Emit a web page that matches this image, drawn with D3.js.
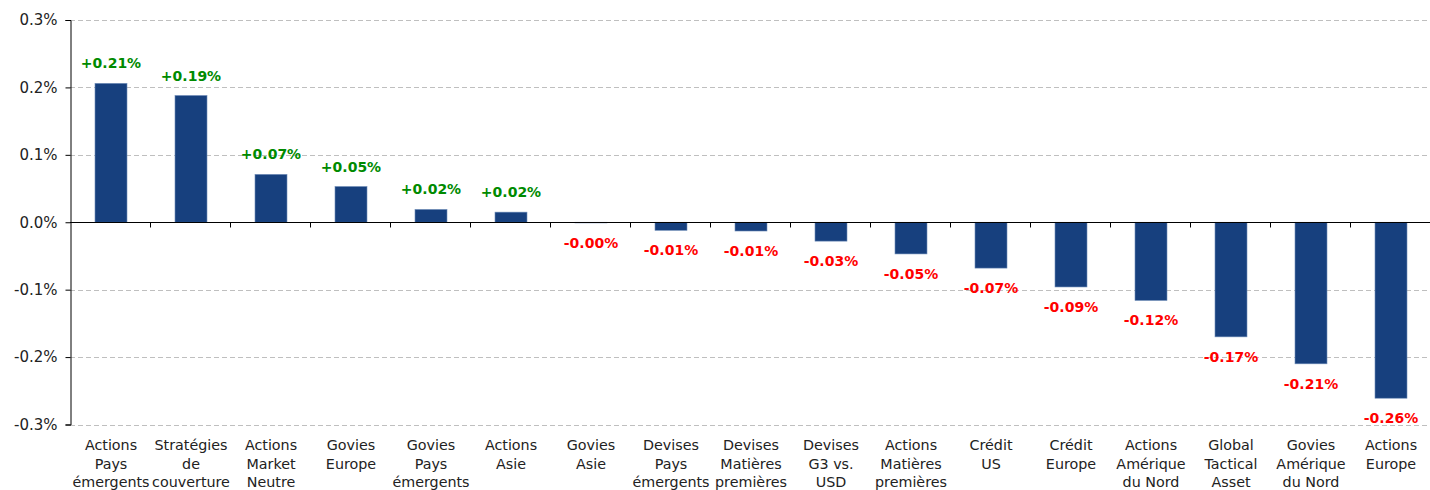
<!doctype html>
<html>
<head>
<meta charset="utf-8">
<title>Contributions</title>
<script src="https://cdn.jsdelivr.net/npm/d3@7"></script>
<style>
  body { margin: 0; background: white; }
  svg { display: block; font-family: "DejaVu Sans", Verdana, sans-serif; }
</style>
</head>
<body>
<svg id="chart" width="1430" height="490"></svg>
<script>
// categories (line breaks as in the original)
var categories = [
  "Actions\nPays\némergents", "Stratégies\nde\ncouverture", "Actions\nMarket\nNeutre",
  "Govies\nEurope", "Govies\nPays\némergents", "Actions\nAsie", "Govies\nAsie",
  "Devises\nPays\némergents", "Devises\nMatières\npremières", "Devises\nG3 vs.\nUSD",
  "Actions\nMatières\npremières", "Crédit\nUS", "Crédit\nEurope", "Actions\nAmérique\ndu Nord",
  "Global\nTactical\nAsset", "Govies\nAmérique\ndu Nord", "Actions\nEurope"
];
// values in %
var values = [0.206, 0.188, 0.071, 0.053, 0.019, 0.015, -0.001, -0.012, -0.013,
  -0.028, -0.047, -0.068, -0.096, -0.116, -0.170, -0.210, -0.261];
var valueLabels = ["+0.21%", "+0.19%", "+0.07%", "+0.05%", "+0.02%", "+0.02%", "-0.00%",
  "-0.01%", "-0.01%", "-0.03%", "-0.05%", "-0.07%", "-0.09%", "-0.12%", "-0.17%", "-0.21%", "-0.26%"];
var yTicks = [-0.3, -0.2, -0.1, 0, 0.1, 0.2, 0.3];
var yTickLabels = ["-0.3%", "-0.2%", "-0.1%", "0.0%", "0.1%", "0.2%", "0.3%"];

var margin = {left: 70, right: 0, top: 20, bottom: 65};
var width = 1430, height = 490;
var barW = 32;
var svg = d3.select('#chart');

var xb = d3.scaleBand()
    .domain(d3.range(categories.length))
    .range([margin.left, width - margin.right]);
var y = d3.scaleLinear()
    .domain([-0.3, 0.3])
    .range([height - margin.bottom - 0.5, margin.top]);

// grid
svg.append('g').selectAll('line')
    .data(yTicks.filter(function (d) { return d !== 0; }))
    .join('line')
    .attr('x1', margin.left).attr('x2', width - 2)
    .attr('y1', function (d) { return Math.round(y(d)) + 0.5; })
    .attr('y2', function (d) { return Math.round(y(d)) + 0.5; })
    .attr('stroke', '#bfbfbf')
    .attr('stroke-dasharray', '5,3');

// bars
svg.append('g').selectAll('rect')
    .data(values)
    .join('rect')
    .attr('x', function (d, i) { return xb(i) + (xb.bandwidth() - barW) / 2 + 1; })
    .attr('width', barW)
    .attr('y', function (d) { return y(Math.max(0, d)); })
    .attr('height', function (d) { return Math.abs(y(d) - y(0)); })
    .attr('fill', '#17407e')
    .attr('stroke', '#6f8cb8')
    .attr('stroke-width', 0.6);

// value labels
svg.append('g').selectAll('text')
    .data(values)
    .join('text')
    .attr('x', function (d, i) { return xb(i) + xb.bandwidth() / 2 + 1; })
    .attr('y', function (d) { return d >= 0 ? y(d) - 15 : y(d) + 25; })
    .attr('text-anchor', 'middle')
    .style('font-size', '14px')
    .attr('font-weight', 'bold')
    .attr('fill', function (d) { return d >= 0 ? '#008a00' : '#ff0000'; })
    .text(function (d, i) { return valueLabels[i]; });

// y axis
var yAxis = d3.axisLeft(y)
    .tickValues(yTicks)
    .tickSize(5)
    .tickFormat(function (d, i) { return yTickLabels[i]; });
var gy = svg.append('g')
    .attr('transform', 'translate(' + (margin.left + 0.5) + ',0)')
    .call(yAxis);
gy.attr('font-family', null).attr('font-size', null);
gy.select('.domain').attr('stroke', '#000');
gy.selectAll('.tick line').attr('stroke', '#000');
gy.selectAll('.tick text')
    .style('font-size', '15px')
    .attr('fill', '#222')
    .attr('x', -13);

// x axis at zero
var gx = svg.append('g')
    .attr('transform', 'translate(0,' + (Math.round(y(0)) + 0.5) + ')');
gx.append('line')
    .attr('x1', margin.left).attr('x2', width)
    .attr('stroke', '#000');
gx.selectAll('line.tk')
    .data(d3.range(1, categories.length))
    .join('line')
    .attr('class', 'tk')
    .attr('x1', function (i) { return Math.round(xb(i)) + 0.5; })
    .attr('x2', function (i) { return Math.round(xb(i)) + 0.5; })
    .attr('y1', 0).attr('y2', 5)
    .attr('stroke', '#000');

// category labels
var cat = svg.append('g').selectAll('text')
    .data(categories)
    .join('text')
    .attr('text-anchor', 'middle')
    .style('font-size', '14.3px')
    .attr('fill', '#222')
    .attr('transform', function (d, i) {
      return 'translate(' + (xb(i) + xb.bandwidth() / 2 + 1) + ',' + (height - margin.bottom + 25) + ')';
    });
cat.selectAll('tspan')
    .data(function (d) { return d.split('\n'); })
    .join('tspan')
    .attr('x', 0)
    .attr('dy', function (d, i) { return i === 0 ? 0 : 18.5; })
    .text(function (d) { return d; });
</script>
</body>
</html>
